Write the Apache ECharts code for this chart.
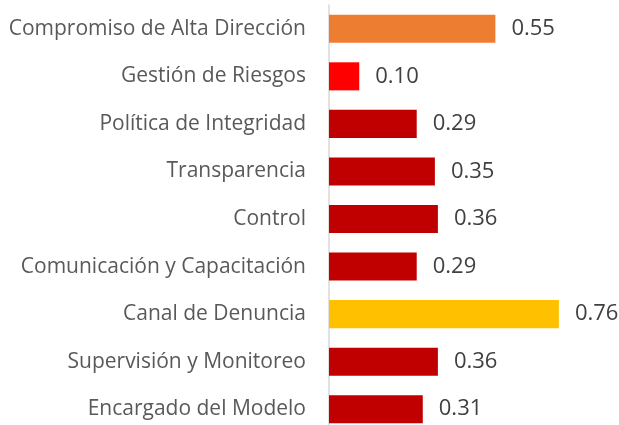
<!DOCTYPE html>
<html>
<head>
<meta charset="utf-8">
<script src="https://cdn.jsdelivr.net/npm/echarts@6/dist/echarts.min.js"></script>
<style>
  html, body { margin: 0; padding: 0; background: #fff; }
  #chart { width: 619px; height: 425px; }
</style>
</head>
<body>
<div id="chart"></div>
<script>
  // categorías de arriba hacia abajo
  const categories = [
    'Compromiso de Alta Dirección',
    'Gestión de Riesgos',
    'Política de Integridad',
    'Transparencia',
    'Control',
    'Comunicación y Capacitación',
    'Canal de Denuncia',
    'Supervisión y Monitoreo',
    'Encargado del Modelo'
  ];
  const values = [0.55, 0.10, 0.29, 0.35, 0.36, 0.29, 0.76, 0.36, 0.31];
  const barColors = ['#ED7D31', '#FF0000', '#C00000', '#C00000', '#C00000', '#C00000', '#FFC000', '#C00000', '#C00000'];

  const chart = echarts.init(document.getElementById('chart'));
  chart.setOption({
    animation: false,
    grid: { left: 329, top: 5, width: 242, height: 428, outerBoundsMode: 'none' },
    xAxis: {
      type: 'value',
      min: 0,
      max: 0.8,
      show: false
    },
    yAxis: {
      type: 'category',
      inverse: true,
      data: categories,
      axisLine: { show: true, lineStyle: { color: '#D9D9D9', width: 1.5 } },
      axisTick: { show: false },
      axisLabel: {
        margin: 23,
        color: '#595959',
        fontFamily: 'Open Sans',
        fontSize: 21
      }
    },
    series: [{
      type: 'bar',
      barCategoryGap: '41%',
      data: values.map((v, i) => ({ value: v, itemStyle: { color: barColors[i] } })),
      label: {
        show: true,
        position: 'right',
        distance: 16,
        color: '#404040',
        fontFamily: 'Open Sans',
        fontSize: 22,
        formatter: p => p.value.toFixed(2)
      }
    }]
  });
</script>
</body>
</html>
